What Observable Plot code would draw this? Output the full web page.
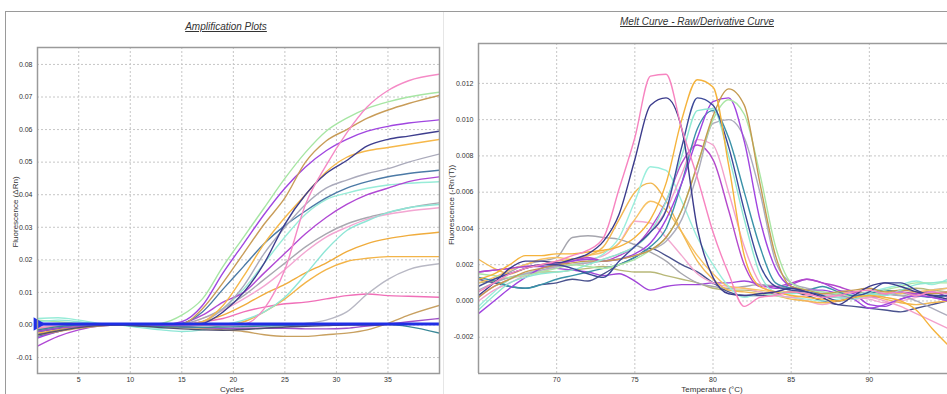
<!DOCTYPE html>
<html><head><meta charset="utf-8">
<script src="https://cdn.jsdelivr.net/npm/d3@7"></script>
<script src="https://cdn.jsdelivr.net/npm/@observablehq/plot@0.6"></script>
<style>
body{margin:0;background:#fff;}
#chart{position:relative;width:947px;height:394px;overflow:hidden;background:#fff;font-family:"Liberation Sans",Arial,sans-serif;}
.panel{position:absolute;top:0;}
.title{position:absolute;font-style:italic;text-decoration:underline;font-size:10px;color:#333;white-space:nowrap;transform:translateX(-50%);}
.xlab{position:absolute;font-size:8px;line-height:8px;color:#333;transform:translateX(-50%);white-space:nowrap;}
.ylab{position:absolute;font-size:8px;color:#333;white-space:nowrap;transform:translate(-50%,-50%) rotate(-90deg);}
.line{position:absolute;}
</style></head><body><div id="chart"></div>
<script>
// ---------- Amplification plot data (ΔRn in units of 0.001) ----------
const ampCycles = [1,3,5,7,9,11,13,15,17,19,21,23,25,27,29,31,33,35,37,40];
const ampXTicks = [5,10,15,20,25,30,35];
const ampYTicks = [-10,0,10,20,30,40,50,60,70,80];
const ampXDomain = [1,40];
const ampYDomain = [-14.9,85.2];
const ampThreshold = 0.3;
const ampPink     = [-1.0,-0.5,0,0.2,0,0,0,0,0,0,0.3,5,17,37,49,59,67,72,75,77];
const ampGreen    = [1.5,1.0,0.5,0.2,0,0,0.5,3,8,18,27,36,45,53,59.5,63.5,66.5,68.5,70,71.5];
const ampTan      = [-3.0,-1.5,-0.5,0,0,0,0,0.3,5,13,22,31,39,50,56.5,60,63.5,66,68,70.5];
const ampPurple   = [-4,-2,-0.5,0,0,0,0,1,6,16,25,34,42,48.5,53.5,57,59.5,61,62,63];
const ampNavy     = [-2,-1,0,0,0,0,0,0,0.5,4,10,19,31,40,46.5,50.5,55,57,58,59.5];
const ampOrange   = [-2.5,-1.5,-0.5,0,0,0,0,0,1,6,15,25,33,40,47,51.5,53.5,54.5,55.5,57];
const ampGray     = [-1.5,-0.8,0,0,0,0,0,0,1,5,12,22,30,37,42,44.5,46.5,48,50,52.5];
const ampSteel    = [-3.5,-2,-0.5,0,0,0,0,0.5,4,11,18,25,30.5,35,39,42,44,45.5,46.5,47.5];
const ampMagenta  = [-6.5,-3.5,-1.5,-0.3,0,0,0,0.5,3,7,10,16,22,28,33,37,40,42,44,45.5];
const ampAquaTop  = [2.0,2.2,1.5,0.5,0,-0.5,-1.0,-0.5,1,5,11,19,27,34,38.5,40.5,42,43,43.5,44];
const ampAquaLow  = [1.0,1.5,1.0,0.3,0,-0.8,-1.5,-2.0,-1.5,0,1.5,4,8.5,15.5,23,29,32,34.5,36,37];
const ampPink2    = [-0.5,0,0.5,0.3,0,0,0,0,2,4.5,8,12,17,22.5,27,30,32.5,34,35,36];
const ampGray2    = [-2,-1,-0.3,0,0,0,0,0.3,2,5,9,14,19,24,28,31,33,34.5,36,37.5];
const ampOrange2  = [-1.5,-0.8,-0.2,0,0,0,0,0,1,3,6,9.5,12.5,16,19,22.5,25,26.5,27.5,28.5];
const ampOrange3  = [-1,-0.5,0,0,0,0,0,0,0,0,1,4,8,13,17,19.5,20.5,21,21,21];
const ampGray3    = [-0.5,-0.3,0,0,0,0,0,0,0,0,0,0,0,0.5,1.5,4,9.5,14,17,18.8];
const ampPink3    = [-1.5,-0.8,-0.2,0,0,0,0,0,1,2,4,5.5,6.5,7,8,9,9.5,9,8.8,8.5];
const ampTan2     = [-3,-2,-1,-0.3,0,-0.2,-0.5,-0.8,-1,-1.5,-2,-3,-3.5,-3.5,-3,-2.5,-1.5,0.5,3,6];
const ampPurpleLo = [-2,-1,-0.5,0,0,0,-0.2,-0.5,-0.8,-1,-1,-1,-1,-1.2,-1.2,-1,-0.3,0.3,1,2];
const ampTeal     = [-1.5,-0.5,0,0.2,0,-0.3,-0.5,-0.6,-0.7,-0.6,-0.5,-0.3,-0.2,0,0.2,0.3,0.3,0.2,-0.5,-2.5];
const ampSlate    = [-3,-1.8,-0.8,-0.2,0,-0.3,-0.8,-1.2,-1.5,-1.6,-1.4,-1,-0.6,-0.4,-0.2,0,0,0.1,0.2,0.3];

// ---------- Melt curve data (-Rn'(T) in units of 0.001) ----------
const meltTemps = [65,66,67,68,69,70,71,72,73,74,75,76,77,78,79,80,81,82,83,84,85,86,87,88,89,90,91,92,93,94,95];
const meltXTicks = [70,75,80,85,90];
const meltYTicks = [-2,0,2,4,6,8,10,12];
const meltXDomain = [65,95];
const meltYDomain = [-4.0,14.2];
const meltPink     = [0.5,1.0,1.5,1.8,2.0,2.2,2.5,2.8,3.5,6.2,9.0,12.4,12.5,9.5,6.8,3.8,1.5,-0.3,0.2,0.3,0.5,0.4,0.2,0.3,0.5,0.6,0.4,0.5,0.3,0.5,0.4];
const meltNavy     = [0.3,1.0,1.8,2.2,2.2,2.1,2.3,2.6,3.3,4.8,7.8,10.8,11.2,9.5,4.0,1.3,0.4,0.3,0.4,0.5,0.7,0.5,0.2,-0.2,0.3,0.8,1.0,0.8,0.5,0.3,0.1];
const meltOrange   = [1.2,1.5,2.0,2.5,2.5,2.6,2.6,2.7,2.8,3.0,3.5,4.5,6.5,10.0,12.2,11.8,7.5,2.5,0.8,0.5,0.3,0.2,0.1,0.0,0.2,0.3,0.2,0.0,-0.5,-1.5,-2.4];
const meltNavy2    = [0.8,1.2,1.5,1.8,2.0,2.0,1.8,1.5,1.3,2.2,3.0,3.8,5.0,8.5,11.2,10.8,8.5,5.0,2.0,0.8,0.6,0.5,0.3,0.0,0.2,0.5,1.0,1.0,0.6,0.3,0.3];
const meltAqua     = [-0.5,0.3,1.0,1.3,1.5,1.6,1.7,2.0,2.3,2.6,3.0,3.8,5.5,8.0,10.5,10.6,8.0,4.5,1.5,0.5,0.4,0.5,0.3,0.2,0.1,0.4,0.3,0.6,0.9,1.0,1.1];
const meltTan      = [0.2,0.8,1.2,1.6,1.8,2.0,2.1,2.2,2.2,2.3,2.5,2.8,3.5,5.0,7.5,10.2,11.7,10.8,6.5,2.5,0.8,0.6,0.4,0.5,0.6,0.7,0.5,0.6,0.5,0.4,0.5];
const meltGreen    = [1.5,1.4,1.3,1.4,1.6,1.8,2.0,1.9,1.8,2.0,2.3,2.8,3.5,5.0,7.5,10.0,11.1,10.3,7.0,3.0,1.0,0.6,0.5,0.4,0.2,0.3,0.6,0.8,1.0,1.0,1.0];
const meltPurple   = [-0.7,0.0,0.7,1.3,1.8,2.0,2.2,2.3,2.2,2.3,2.6,3.2,4.5,6.5,9.0,11.0,11.2,8.8,4.5,1.8,0.8,0.6,0.6,0.4,0.1,-0.4,-0.2,0.1,0.3,0.2,0.0];
const meltGray     = [0.6,1.0,1.3,1.5,1.7,1.9,2.0,2.1,2.2,2.3,2.5,2.8,3.3,4.5,7.0,9.8,10.0,9.0,6.0,2.2,1.0,0.7,0.5,0.3,0.2,0.3,0.4,0.3,0.0,-0.4,-0.8];
const meltTeal     = [1.3,1.1,0.8,0.7,0.9,1.2,1.4,1.6,1.8,2.0,2.4,3.0,4.0,6.5,9.5,10.5,9.0,6.0,3.0,1.0,0.7,0.6,0.8,0.5,0.3,0.4,0.6,0.5,0.3,0.2,0.3];
const meltPink2    = [0.0,0.6,1.0,1.4,1.6,1.9,2.0,2.1,2.3,2.6,3.0,3.8,5.0,7.0,8.9,8.6,6.0,3.0,1.0,0.4,0.2,0.3,0.4,0.2,0.1,0.2,0.0,-0.3,-0.7,-1.1,-1.5];
const meltMagenta  = [1.6,1.7,1.8,1.9,2.0,2.1,2.2,2.4,2.2,2.5,3.0,4.0,5.5,7.6,8.6,7.8,5.0,2.0,0.8,0.8,1.0,1.2,1.0,0.8,0.5,0.2,0.3,0.5,0.4,0.5,0.2];
const meltAqua2    = [-0.3,0.5,1.2,1.5,1.7,1.9,2.0,2.2,2.6,3.5,5.5,7.4,7.2,5.5,3.5,2.0,0.8,0.2,0.4,0.3,0.2,0.1,0.0,0.1,0.3,0.5,0.7,0.9,1.1,0.9,1.2];
const meltOrange2  = [2.3,1.8,1.5,1.8,2.0,2.2,2.3,2.5,3.0,4.5,6.0,6.5,5.5,3.8,2.2,1.2,0.6,0.5,0.4,0.3,0.1,0.0,-0.1,0.0,0.2,0.3,0.1,-0.1,-0.2,-0.1,0.0];
const meltOrange3  = [1.0,1.3,1.7,2.0,2.3,2.4,2.3,2.5,2.7,3.2,4.5,5.5,5.0,3.8,2.5,1.5,0.8,0.7,0.6,0.5,0.5,0.4,0.3,0.4,0.5,0.6,0.5,0.4,0.5,0.6,0.7];
const meltPink3    = [0.2,0.8,1.2,1.5,1.8,2.0,2.2,2.3,2.5,3.2,4.4,4.3,3.5,2.5,1.5,1.0,0.8,0.7,0.5,0.3,0.2,0.0,-0.2,0.0,0.2,0.1,-0.1,0.0,0.2,0.4,0.5];
const meltGray2    = [0.8,1.2,1.6,2.0,2.2,2.4,3.5,3.6,3.5,3.4,3.1,2.7,2.2,1.5,1.0,0.8,0.7,0.8,0.9,0.8,0.6,0.5,0.3,0.2,0.3,0.5,0.4,0.3,0.4,0.6,0.7];
const meltNavy3    = [1.2,1.0,0.8,0.7,0.9,1.0,1.2,1.1,1.5,2.0,2.4,2.9,2.5,2.0,1.6,1.0,0.5,0.3,0.3,0.4,0.5,0.3,0.0,-0.2,-0.3,-0.4,-0.5,-0.6,-0.4,-0.2,0.0];
const meltPurpleLo = [1.6,1.7,1.8,1.9,1.9,1.8,1.7,1.6,1.4,1.5,1.1,0.6,0.8,0.9,0.9,1.0,1.0,1.1,0.9,0.7,0.9,1.2,1.0,0.6,0.4,-0.2,-0.3,0.1,0.3,0.2,0.0];
const meltOlive    = [1.0,1.1,1.3,1.5,1.6,1.6,1.7,1.8,1.9,1.7,1.6,1.6,1.4,1.2,1.0,0.7,0.6,0.6,0.5,0.4,0.5,0.6,0.4,0.4,0.5,0.4,0.4,0.6,0.7,0.6,0.5];

// ---------- series lists ----------
const ampSeries = [
  ["#a7e6a4", ampGreen], ["#f06fb8", ampPink3], ["#b8b8c4", ampGray3], ["#f3b448", ampOrange3],
  ["#f0ac3c", ampOrange2], ["#f3a6d2", ampPink2], ["#a8a8b0", ampGray2], ["#8ee6d6", ampAquaLow],
  ["#98ecd8", ampAquaTop], ["#b048d4", ampMagenta], ["#4c7aa6", ampSteel], ["#aaaabb", ampGray],
  ["#f6b84a", ampOrange], ["#3e3e8e", ampNavy], ["#a046e0", ampPurple], ["#c89c58", ampTan],
  ["#f58ac6", ampPink], ["#c8a060", ampTan2], ["#a050c8", ampPurpleLo], ["#3a8898", ampTeal], ["#505070", ampSlate]
];
const meltSeries = [
  ["#b8b878", meltOlive], ["#a044d8", meltPurpleLo], ["#4a528e", meltNavy3], ["#a6a6ae", meltGray2],
  ["#f3a8d0", meltPink3], ["#f8c264", meltOrange3], ["#f2b852", meltOrange2], ["#9aeedc", meltAqua2],
  ["#b448cc", meltMagenta], ["#f3a0cc", meltPink2], ["#3a92a8", meltTeal], ["#acacbc", meltGray],
  ["#a044e0", meltPurple], ["#aae6a4", meltGreen], ["#c49a50", meltTan], ["#8ee8d2", meltAqua],
  ["#3c4a9a", meltNavy2], ["#f5b33c", meltOrange], ["#3c3c8c", meltNavy], ["#f784c0", meltPink]
];

function lineMarks(xs, series, curve) {
  return series.map(([color, vals]) =>
    Plot.line(xs.map((x, i) => ({x, y: vals[i]})), {x: "x", y: "y", stroke: color, strokeWidth: 1.4, curve, clip: true})
  );
}

const gridStyle = {stroke: "#c6c6c6", strokeDasharray: "2,2", strokeWidth: 1};
const fontStyle = {fontSize: "7px", fontFamily: "Liberation Sans, Arial, sans-serif", color: "#333", background: "transparent", overflow: "visible"};

const left = Plot.plot({
  width: 470, height: 394, marginLeft: 37, marginRight: 31, marginTop: 47, marginBottom: 21,
  style: fontStyle,
  x: {domain: ampXDomain, ticks: ampXTicks, tickSize: 0, tickPadding: 4, label: null},
  y: {domain: ampYDomain, ticks: ampYTicks, tickSize: 0, tickPadding: 5, label: null, tickFormat: d => (d / 1000).toFixed(2)},
  marks: [
    Plot.ruleX(ampXTicks, gridStyle),
    Plot.ruleY(ampYTicks, gridStyle),
    ...lineMarks(ampCycles, ampSeries, "monotone-x"),
    Plot.ruleY([ampThreshold], {stroke: "#1f2ee6", strokeWidth: 3}),
    Plot.dot([ampThreshold], {x: () => ampXDomain[0], y: d => d, symbol: "triangle", rotate: 90, r: 5, fill: "#1f2ee6", stroke: "none"}),
    Plot.frame({stroke: "#9a9a9a", strokeWidth: 1.5})
  ]
});

const right = Plot.plot({
  width: 504, height: 394, marginLeft: 35, marginRight: 0, marginTop: 43, marginBottom: 21,
  style: fontStyle,
  x: {domain: meltXDomain, ticks: meltXTicks, tickSize: 0, tickPadding: 4, label: null},
  y: {domain: meltYDomain, ticks: meltYTicks, tickSize: 0, tickPadding: 5, label: null, tickFormat: d => (d / 1000).toFixed(3)},
  marks: [
    Plot.ruleX(meltXTicks, gridStyle),
    Plot.ruleY(meltYTicks, gridStyle),
    ...lineMarks(meltTemps, meltSeries, "monotone-x"),
    Plot.ruleX([meltXDomain[0]], {stroke: "#9a9a9a", strokeWidth: 1.5}),
    Plot.ruleY(meltYDomain, {stroke: "#9a9a9a", strokeWidth: 1.5})
  ]
});

const chart = document.getElementById("chart");
function add(html) { chart.insertAdjacentHTML("beforeend", html); }
// outer panel borders
add('<div class="line" style="left:5px;top:11px;width:942px;height:0;border-top:1.5px solid #9a9a9a"></div>');
add('<div class="line" style="left:5px;top:11px;width:0;height:383px;border-left:1.5px solid #9a9a9a"></div>');
add('<div class="line" style="left:443px;top:12px;width:0;height:382px;border-left:1px solid #e6e6e6"></div>');

const lp = document.createElement("div"); lp.className = "panel"; lp.style.left = "0px"; lp.appendChild(left); chart.appendChild(lp);
const rp = document.createElement("div"); rp.className = "panel"; rp.style.left = "443px"; rp.appendChild(right); chart.appendChild(rp);

add('<div class="title" style="left:226px;top:21px">Amplification Plots</div>');
add('<div class="title" style="left:697px;top:16px">Melt Curve - Raw/Derivative Curve</div>');
add('<div class="xlab" style="left:232px;top:386px">Cycles</div>');
add('<div class="xlab" style="left:712px;top:386px">Temperature (°C)</div>');
add('<div class="ylab" style="left:15px;top:212px">Fluorescence (ΔRn)</div>');
add('<div class="ylab" style="left:451px;top:205px">Fluorescence (-Rn\'(T))</div>');
</script></body></html>
